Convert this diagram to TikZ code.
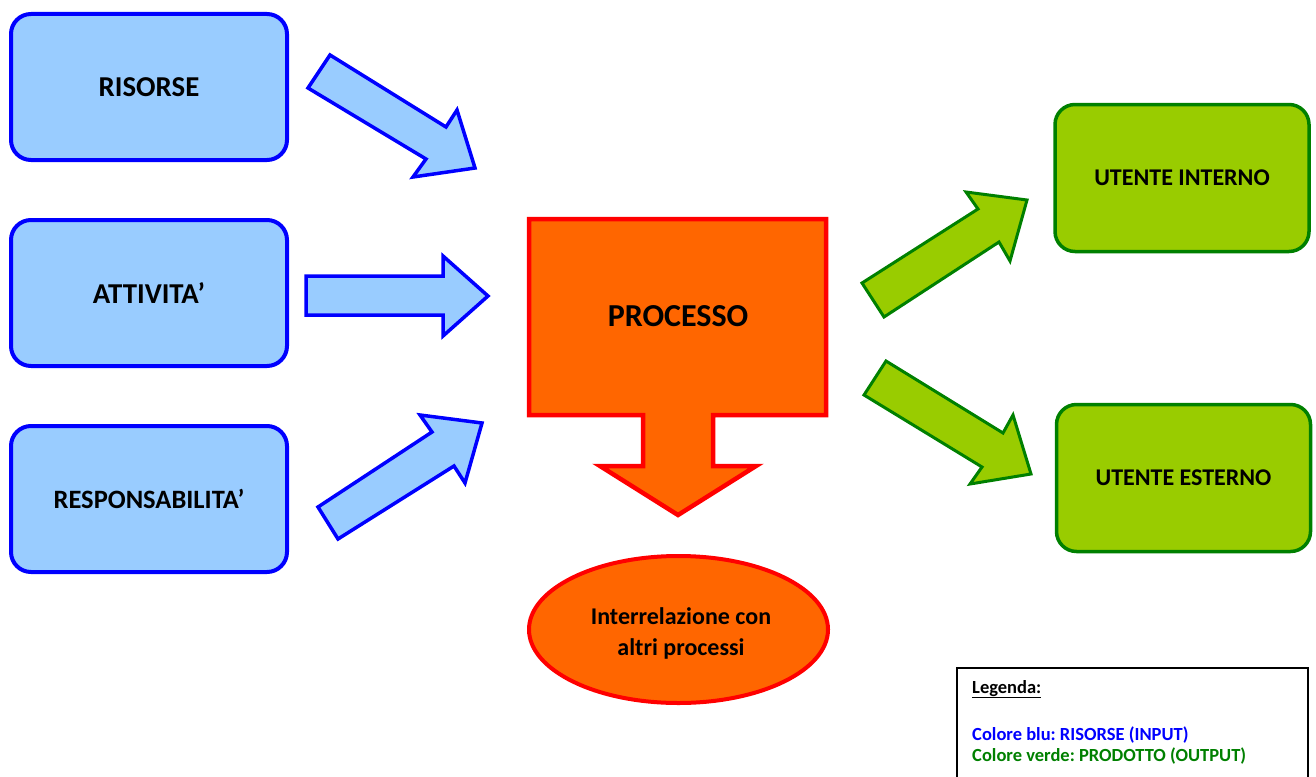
\documentclass[tikz,border=0pt]{standalone}
\usepackage{fontspec}
\setmainfont{Carlito}
\usetikzlibrary{shapes.geometric}
\definecolor{bfill}{HTML}{99CCFF}
\definecolor{bline}{HTML}{0000FF}
\definecolor{gfill}{HTML}{99CC00}
\definecolor{gline}{HTML}{008000}
\definecolor{ofill}{HTML}{FF6600}
\definecolor{oline}{HTML}{FF0000}
\tikzset{
  bluebox/.style={draw=bline, fill=bfill, line width=4pt, rounded corners=20pt,
    minimum width=276pt, minimum height=146pt, font=\bfseries\fontsize{28.8}{32}\selectfont},
  greenbox/.style={draw=gline, fill=gfill, line width=3.5pt, rounded corners=20pt,
    minimum width=254pt, minimum height=147pt, font=\bfseries\fontsize{24}{28}\selectfont},
  bluearrow/.style={draw=bline, fill=bfill, line width=3.5pt, line join=miter},
  greenarrow/.style={draw=gline, fill=gfill, line width=3pt, line join=miter},
  procshape/.style={draw=oline, fill=ofill, line width=4.5pt, line join=miter},
  lbl/.style={inner sep=0pt},
  legtext/.style={inner sep=0pt, anchor=base west, font=\bfseries\fontsize{18.5}{22}\selectfont\frenchspacing}
}
\begin{document}
\begin{tikzpicture}[x=1pt,y=-1pt]
\useasboundingbox (0,0) rectangle (1316,776);
% input boxes
\node[bluebox] (ris) at (149,87) {RISORSE};
\node[bluebox] (att) at (149,293) {ATTIVITA’};
\node[bluebox, font=\bfseries\fontsize{26.5}{30}\selectfont] (resp) at (149,499) {RESPONSABILITA’};
% output boxes
\node[greenbox] (int) at (1182,178) {UTENTE INTERNO};
\node[greenbox] (est) at (1183.5,478) {UTENTE ESTERNO};
% process block arrow
\draw[procshape] (529,219) -- (826,219) -- (826,415) -- (713,415) -- (713,466)
  -- (756,466) -- (678,515) -- (600,466) -- (643,466) -- (643,415) -- (529,415) -- cycle;
\node[lbl, font=\bfseries\fontsize{32}{36}\selectfont] (proc) at (678,316) {PROCESSO};
% ellipse
\node[ellipse, draw=oline, fill=ofill, line width=4pt, minimum width=299pt, minimum height=147pt] (inter) at (678.5,629.5) {};
\node[lbl, align=center, font=\bfseries\fontsize{24}{31}\selectfont] (intertxt) at (681,633)
  {Interrelazione con\\altri processi};
% blue block arrows
\draw[bluearrow] (330,55) -- (446,127) -- (457,110) -- (475,168) -- (413,177) -- (426,159) -- (308,88) -- cycle;
\draw[bluearrow] (306,276) -- (443,276) -- (443,256) -- (488,296) -- (443,336) -- (443,315) -- (306,315) -- cycle;
\draw[bluearrow] (318,507) -- (432,432) -- (420,415) -- (482,423) -- (465,483) -- (454,466) -- (338,539) -- cycle;
% green block arrows
\draw[greenarrow] (862,283) -- (978,209) -- (966,192) -- (1027,200) -- (1010,261) -- (999,242) -- (884,317) -- cycle;
\draw[greenarrow] (886,361) -- (1003,433) -- (1013,415) -- (1031,474) -- (970,484) -- (982,467) -- (864,395) -- cycle;
% legend
\draw[line width=2pt] (957,780) -- (957,668) -- (1308,668) -- (1308,780);
\node[legtext] (leg) at (972,693) {\underline{Legenda:}};
\node[legtext, text=bline] (legb) at (972,740) {Colore blu: RISORSE (INPUT)};
\node[legtext, text=gline] (legg) at (972,761) {Colore verde: PRODOTTO (OUTPUT)};
\end{tikzpicture}
\end{document}
